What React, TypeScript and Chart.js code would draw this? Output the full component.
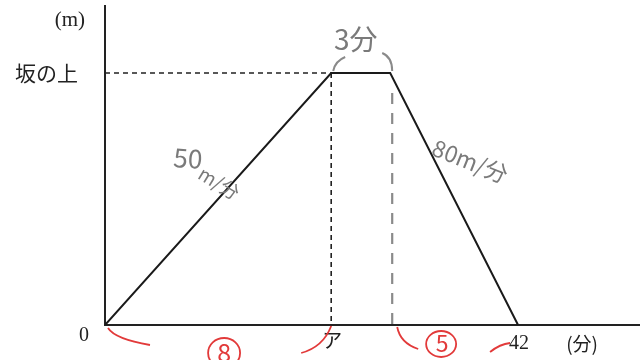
import React, { useEffect, useRef } from "react";
import { Chart, registerables } from "chart.js";

Chart.register(...registerables);

// schematic time positions (分) and height (m)
const timeValues = [0, 23, 29, 42];
const heightValues = [0, 400, 400, 0];
const xTickValues = [0, 23, 42];
const xTickLabels = ["0", "ア", "42"];
const yLabelTop = "坂の上";
const yUnit = "(m)";
const xUnit = "(分)";
const noteStay = "3分";
const noteUp = ["50", "m/分"];
const noteDown = "80m/分";
const redNotes = ["8", "5"];

const SERIF = "'Liberation Serif', 'DejaVu Serif', serif";
const JP = "'Noto Sans CJK JP', sans-serif";

export default function App() {
  const ref = useRef<HTMLCanvasElement | null>(null);

  useEffect(() => {
    if (!ref.current) return;
    const drawPlugin = {
      id: "diagram",
      beforeDatasetsDraw(chart: any) {
        const { ctx, chartArea } = chart;
        const xs = chart.scales.x;
        const ys = chart.scales.y;
        const { left, top, right, bottom } = chartArea;
        ctx.save();
        // axes
        ctx.strokeStyle = "#222";
        ctx.lineWidth = 2;
        ctx.beginPath();
        ctx.moveTo(left, top);
        ctx.lineTo(left, bottom);
        ctx.lineTo(right, bottom);
        ctx.stroke();
        // dashed guides
        const yTop = ys.getPixelForValue(heightValues[1]);
        const xA = xs.getPixelForValue(timeValues[1]);
        const xB = xs.getPixelForValue(timeValues[2]);
        ctx.lineWidth = 1.6;
        ctx.setLineDash([5, 4]);
        ctx.beginPath();
        ctx.moveTo(left, yTop);
        ctx.lineTo(xA, yTop);
        ctx.moveTo(xA, yTop);
        ctx.lineTo(xA, bottom);
        ctx.stroke();
        // grey handwritten dashed line
        ctx.strokeStyle = "#8a8a8a";
        ctx.lineWidth = 2.2;
        ctx.setLineDash([11, 9]);
        ctx.beginPath();
        ctx.moveTo(xB + 2, yTop + 20);
        ctx.lineTo(xB + 2, bottom);
        ctx.stroke();
        ctx.setLineDash([]);
        ctx.restore();
      },
      afterDatasetsDraw(chart: any) {
        const { ctx, chartArea } = chart;
        const xs = chart.scales.x;
        const ys = chart.scales.y;
        const { left, top, bottom } = chartArea;
        const yTop = ys.getPixelForValue(heightValues[1]);
        const xA = xs.getPixelForValue(timeValues[1]);
        const xB = xs.getPixelForValue(timeValues[2]);
        const xE = xs.getPixelForValue(timeValues[3]);
        ctx.save();
        ctx.fillStyle = "#222";
        ctx.textBaseline = "middle";
        // y labels
        ctx.textAlign = "right";
        ctx.font = `21px ${SERIF}`;
        ctx.fillText(yUnit, left - 20, top + 15);
        ctx.font = `21px ${JP}`;
        ctx.fillText(yLabelTop, left - 27, yTop);
        // x tick labels
        ctx.textAlign = "center";
        xTickValues.forEach((v, i) => {
          const px = xs.getPixelForValue(v);
          if (i === 0) {
            ctx.font = `20px ${SERIF}`;
            ctx.fillText(xTickLabels[i], px - 21, bottom + 11);
          } else if (xTickLabels[i] === "ア") {
            ctx.font = `20px ${JP}`;
            ctx.fillText(xTickLabels[i], px + 1, bottom + 15);
          } else {
            ctx.font = `20px ${SERIF}`;
            ctx.fillText(xTickLabels[i], px + 1, bottom + 19);
          }
        });
        ctx.font = `19px ${JP}`;
        ctx.fillText(xUnit, xE + 64, bottom + 19);

        // grey handwriting
        ctx.fillStyle = "#7a7a7a";
        ctx.strokeStyle = "#8a8a8a";
        ctx.lineWidth = 2;
        ctx.font = `28px ${JP}`;
        ctx.fillText(noteStay, (xA + xB) / 2 - 5, top + 34);
        ctx.beginPath();
        ctx.moveTo(xA + 2, yTop - 2);
        ctx.quadraticCurveTo(xA + 4, yTop - 12, xA + 14, yTop - 16);
        ctx.moveTo(xB - 8, yTop - 20);
        ctx.quadraticCurveTo(xB + 2, yTop - 16, xB + 2, yTop - 2);
        ctx.stroke();

        ctx.save();
        ctx.translate(left + 83, yTop + 85);
        ctx.rotate(0.08);
        ctx.font = `26px ${JP}`;
        ctx.fillText(noteUp[0], 0, 0);
        ctx.restore();
        ctx.save();
        ctx.translate(left + 114, yTop + 110);
        ctx.rotate(0.55);
        ctx.font = `19px ${JP}`;
        ctx.fillText(noteUp[1], 0, 0);
        ctx.restore();

        ctx.save();
        ctx.translate(xB + 80, yTop + 88);
        ctx.rotate(0.38);
        ctx.font = `23px ${JP}`;
        ctx.fillText(noteDown, 0, 0);
        ctx.restore();

        // red annotations
        ctx.strokeStyle = "#e23a3a";
        ctx.fillStyle = "#e23a3a";
        ctx.lineWidth = 1.8;
        ctx.beginPath();
        ctx.moveTo(left + 3, bottom + 3);
        ctx.quadraticCurveTo(left + 10, bottom + 14, left + 45, bottom + 20);
        ctx.moveTo(xA - 30, bottom + 28);
        ctx.quadraticCurveTo(xA - 8, bottom + 22, xA, bottom + 1);
        ctx.moveTo(xB + 7, bottom + 2);
        ctx.quadraticCurveTo(xB + 10, bottom + 18, xB + 28, bottom + 24);
        ctx.moveTo(xE - 28, bottom + 27);
        ctx.quadraticCurveTo(xE - 18, bottom + 19, xE - 8, bottom + 18);
        ctx.stroke();

        const mid1 = (left + xA) / 2;
        const mid2 = (xB + xE) / 2;
        ctx.font = `25px ${JP}`;
        ctx.fillText(redNotes[0], mid1 + 6, bottom + 27);
        ctx.beginPath();
        ctx.ellipse(mid1 + 6, bottom + 28, 16, 15, 0, 0, Math.PI * 2);
        ctx.stroke();
        ctx.font = `23px ${JP}`;
        ctx.fillText(redNotes[1], mid2 - 12, bottom + 18);
        ctx.beginPath();
        ctx.ellipse(mid2 - 13, bottom + 19, 15, 13, 0, 0, Math.PI * 2);
        ctx.stroke();
        ctx.restore();
      },
    };

    const chart = new Chart(ref.current, {
      type: "line",
      data: {
        datasets: [
          {
            data: timeValues.map((t, i) => ({ x: t, y: heightValues[i] })),
            borderColor: "#1a1a1a",
            borderWidth: 2,
            pointRadius: 0,
            tension: 0,
            fill: false,
          },
        ],
      },
      options: {
        responsive: false,
        animation: false,
        layout: { padding: { left: 105, top: 5, right: 1, bottom: 35 } },
        plugins: { legend: { display: false }, tooltip: { enabled: false } },
        scales: {
          x: { type: "linear", display: false, min: 0, max: 54.4 },
          y: { type: "linear", display: false, min: 0, max: 508 },
        },
      },
      plugins: [drawPlugin],
    });
    return () => chart.destroy();
  }, []);

  return (
    <div style={{ position: "fixed", left: 0, top: 0, width: 641, height: 360, background: "#fff" }}>
      <canvas ref={ref} width={641} height={360} style={{ display: "block" }} />
    </div>
  );
}
